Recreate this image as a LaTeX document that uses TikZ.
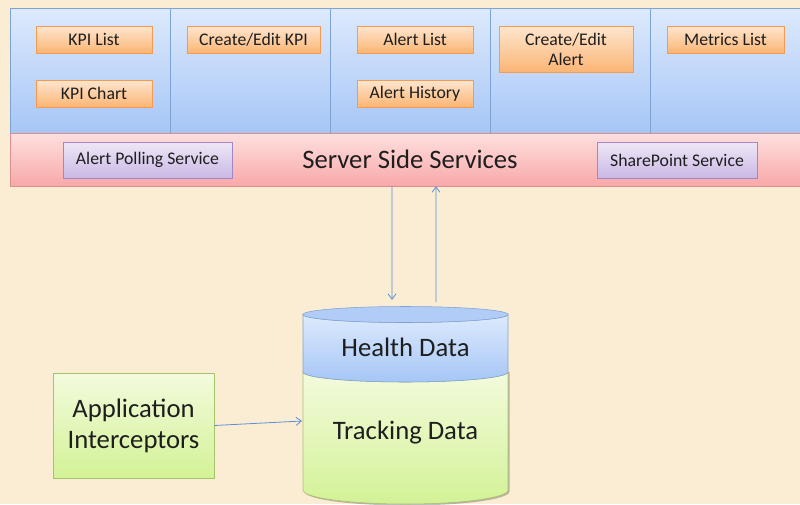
\documentclass[tikz,border=0pt]{standalone}
\usepackage{fontspec}
\setmainfont{Carlito}
\usetikzlibrary{arrows.meta,shadows}

\definecolor{paper}{HTML}{FAEDD3}
\definecolor{paneltop}{HTML}{DDEAFC}
\definecolor{panelbot}{HTML}{A6C6F6}
\definecolor{panelline}{HTML}{7EA2D4}
\definecolor{pinktop}{HTML}{FDE0DF}
\definecolor{pinkbot}{HTML}{F9A8A8}
\definecolor{pinkline}{HTML}{D9908E}
\definecolor{orangetop}{HTML}{FEE6CF}
\definecolor{orangebot}{HTML}{FBB574}
\definecolor{orangeline}{HTML}{F59A4E}
\definecolor{violettop}{HTML}{EEE7F6}
\definecolor{violetbot}{HTML}{CAB8E5}
\definecolor{violetline}{HTML}{9F88C4}
\definecolor{greentop}{HTML}{F3FBDD}
\definecolor{greenbot}{HTML}{D3F296}
\definecolor{greenline}{HTML}{A5C46A}
\definecolor{arrowblue}{HTML}{5B8FD6}
\definecolor{ink}{HTML}{1E1E1E}

\tikzset{
  boxshadow/.style={drop shadow={shadow xshift=0.9pt,shadow yshift=-0.9pt,opacity=0.3,fill=black!70}},
  uibox/.style={draw=orangeline, top color=orangetop, bottom color=orangebot,
    minimum width=87pt, minimum height=20.25pt, inner sep=1pt, text=ink,
    font=\fontsize{13.3}{15}\selectfont, align=center, boxshadow},
  svcbox/.style={draw=violetline, top color=violettop, bottom color=violetbot,
    minimum height=27pt, inner sep=1pt, text=ink,
    font=\fontsize{13.3}{15}\selectfont, boxshadow},
  bigtext/.style={text=ink, font=\fontsize{20}{23.2}\selectfont, align=center},
  flow/.style={draw=arrowblue, line width=0.6pt, -{Straight Barb[length=4pt,width=6pt]}},
}

\begin{document}
\begin{tikzpicture}[x=0.75pt,y=-0.75pt]
   \useasboundingbox[fill=paper] (0,0) rectangle (800,504);
   % client pages
   \shade[top color=paneltop, bottom color=panelbot] (10,8) rectangle (806,133);
   \draw[panelline] (806,8) -- (10,8) -- (10,133) -- (806,133);
   \draw[panelline] (170,8) -- (170,133);
   \draw[panelline] (330,8) -- (330,133);
   \draw[panelline] (490,8) -- (490,133);
   \draw[panelline] (650,8) -- (650,133);
   \node[uibox] (kpilist) at (94,39.5) {KPI List};
   \node[uibox] (kpichart) at (94,93.5) {KPI Chart};
   \node[uibox, minimum width=100pt] (kpiedit) at (253.5,39.5) {Create/Edit KPI};
   \node[uibox] (alertlist) at (415,39.5) {Alert List};
   \node[uibox] (alerthist) at (415,93.5) {Alert History};
   \node[uibox, minimum width=100.5pt, minimum height=34.5pt] (alertedit) at (566,49) {Create/Edit\\Alert};
   \node[uibox, minimum width=87.75pt] (metrics) at (725.5,39.5) {Metrics List};
   % server side
   \node[draw=pinkline, top color=pinktop, bottom color=pinkbot, minimum width=597pt,
     minimum height=39.75pt, inner sep=0pt, bigtext, boxshadow] (services) at (408,159.5) {};
   \node[bigtext] (servicestext) at (410,159.5) {Server Side Services};
   \node[svcbox, minimum width=126.75pt] (polling) at (147.5,160) {Alert Polling Service};
   \node[svcbox, minimum width=120pt] (sharepoint) at (677,160) {SharePoint Service};
   % database
   \fill[black, opacity=0.25] (304.5,372) -- (304.5,491.5) arc[start angle=180, end angle=0, x radius=102.5, y radius=14] -- (509.5,372) -- cycle;
   \shade[top color=greentop, bottom color=greenbot, draw=greenline]
     (303,372) arc[start angle=180, end angle=0, x radius=102.5, y radius=10]
     -- (508,490) arc[start angle=0, end angle=180, x radius=102.5, y radius=14] -- cycle;
   \shade[top color=paneltop, bottom color=panelbot, draw=panelline]
     (303,314.5) -- (303,372) arc[start angle=180, end angle=0, x radius=102.5, y radius=10]
     -- (508,314.5) arc[start angle=0, end angle=180, x radius=102.5, y radius=8] -- cycle;
   \draw[panelline, fill=panelbot!80!paneltop] (405.5,314.5) ellipse[x radius=102.5, y radius=8];
   \coordinate (dbtop) at (405.5,306.5);
   \coordinate (dbin) at (302,421);
   \node[bigtext] (health) at (405.5,347) {Health Data};
   \node[bigtext] (tracking) at (405.5,433) {Tracking Data};
   % interceptors
   \node[draw=greenline, top color=greentop, bottom color=greenbot, minimum width=120.75pt,
     minimum height=78.75pt, bigtext, boxshadow] (app) at (133.5,425.5) {Application\\Interceptors};
   % connectors
   \draw[flow] ([xshift=-12pt]services.south) -- ([xshift=-10.1pt,yshift=5pt]dbtop);
   \draw[flow] ([xshift=22.9pt,yshift=3.5pt]dbtop) -- ([xshift=21pt]services.south);
   \draw[flow] (app.east) -- (dbin);
\end{tikzpicture}
\end{document}
